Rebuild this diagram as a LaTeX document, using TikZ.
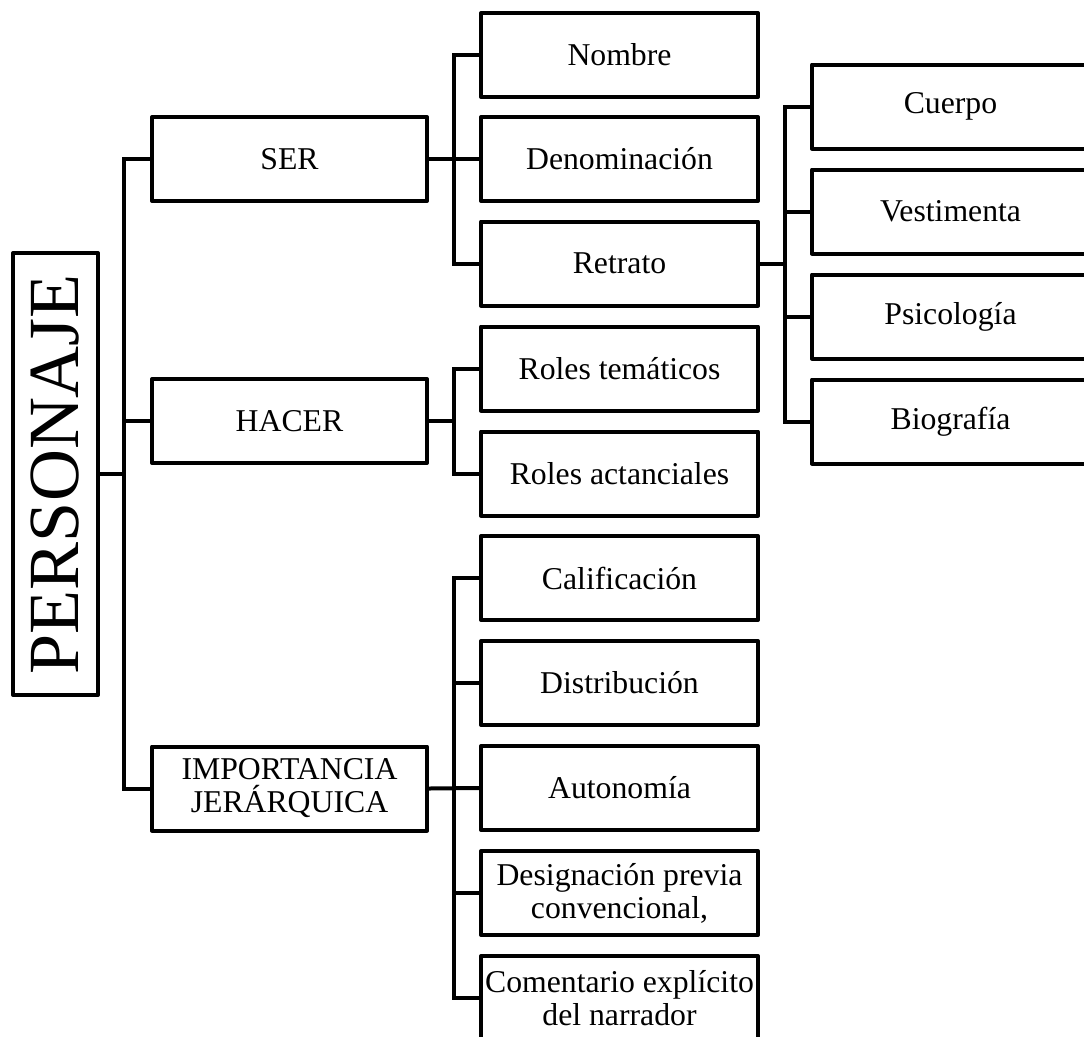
\documentclass[tikz,border=0pt]{standalone}
\usepackage{fontspec}
\setmainfont{Liberation Serif}
\begin{document}
\begin{tikzpicture}[x=0.75pt,y=-0.75pt,
  box/.style={draw=black, line width=3pt, line join=round, rectangle, inner sep=0pt,
    align=center, font=\fontsize{23.8}{24.8}\selectfont, fill=white},
  lvl/.style={box, minimum width=206.25pt, minimum height=63pt},
  sub/.style={box, minimum width=207.75pt, minimum height=63pt},
  conn/.style={draw=black, line width=3pt}]
\path[use as bounding box, clip] (0,0) rectangle (1084,1036);

% root
\node[draw=black, line width=3pt, line join=round, inner sep=0pt, rotate=90,
  minimum width=331.5pt, minimum height=63.75pt,
  font=\fontsize{54}{56}\selectfont] (personaje) at (55.5,474) {PERSONAJE};

% level 1
\node[lvl] (ser)   at (289.5,159) {SER};
\node[lvl] (hacer) at (289.5,421) {HACER};
\node[lvl] (imp)   at (289.5,788.5) {IMPORTANCIA\\JERÁRQUICA};

% level 2
\node[sub] (nombre) at (619.5,55)  {Nombre};
\node[sub] (denom)  at (619.5,159) {Denominación};
\node[sub] (retrato) at (619.5,263.5) {Retrato};
\node[sub] (rt)  at (619.5,368.5) {Roles temáticos};
\node[sub] (ra)  at (619.5,473.5) {Roles actanciales};
\node[sub] (cal) at (619.5,578) {Calificación};
\node[sub] (dist) at (619.5,683) {Distribución};
\node[sub] (auto) at (619.5,788) {Autonomía};
\node[sub] (des) at (619.5,893) {Designación previa\\convencional,};
\node[sub] (com) at (619.5,998) {Comentario explícito\\del narrador};

% level 3
\node[sub] (cuerpo) at (950.5,106.5) {Cuerpo};
\node[sub] (vest)   at (950.5,211.5) {Vestimenta};
\node[sub] (psic)   at (950.5,316.5) {Psicología};
\node[sub] (bio)    at (950.5,421.5) {Biografía};

% spines
\coordinate (s1) at (124,0);
\coordinate (s2) at (454,0);
\coordinate (s3) at (785,0);

% root connectors
\draw[conn] (ser.west) -- (ser.west -| s1) -- (imp.west -| s1) -- (imp.west);
\draw[conn] (hacer.west) -- (hacer.west -| s1);
\draw[conn] (personaje.south) -- (personaje.south -| s1);

% SER connectors
\draw[conn] (nombre.west) -- (nombre.west -| s2) -- (retrato.west -| s2) -- (retrato.west);
\draw[conn] (ser.east) -- (denom.west);

% HACER connectors
\draw[conn] (rt.west) -- (rt.west -| s2) -- (ra.west -| s2) -- (ra.west);
\draw[conn] (hacer.east) -- (hacer.east -| s2);

% IMPORTANCIA connectors
\draw[conn] (cal.west) -- (cal.west -| s2) -- (com.west -| s2) -- (com.west);
\draw[conn] (imp.east) -- (auto.west);
\draw[conn] (dist.west) -- (dist.west -| s2);
\draw[conn] (des.west) -- (des.west -| s2);

% Retrato connectors
\draw[conn] (cuerpo.west) -- (cuerpo.west -| s3) -- (bio.west -| s3) -- (bio.west);
\draw[conn] (retrato.east) -- (retrato.east -| s3);
\draw[conn] (vest.west) -- (vest.west -| s3);
\draw[conn] (psic.west) -- (psic.west -| s3);
\end{tikzpicture}
\end{document}
